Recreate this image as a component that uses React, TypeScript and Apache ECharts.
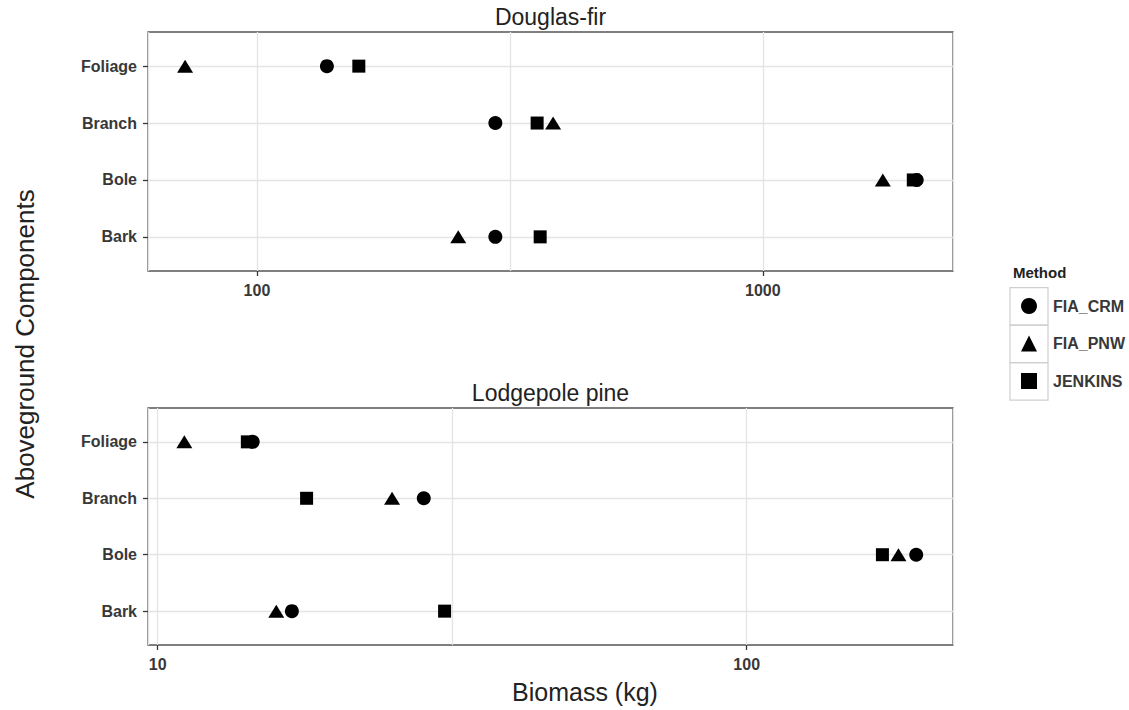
import React, { useEffect, useRef } from "react";
import * as echarts from "echarts";

// ---- data ----
const components = ["Foliage", "Branch", "Bole", "Bark"];
const methods = ["FIA_CRM", "FIA_PNW", "JENKINS"];

// Douglas-fir biomass (kg), order: Foliage, Branch, Bole, Bark
const dfCRM = [137.5, 296, 2015, 296];
const dfPNW = [72.1, 385, 1727, 250];
const dfJENKINS = [159, 358, 1984, 363];

// Lodgepole pine biomass (kg)
const lpCRM = [14.5, 28.3, 194, 16.9];
const lpPNW = [11.1, 25.0, 181, 15.9];
const lpJENKINS = [14.2, 17.9, 170, 30.7];

const dfRange = [60.9, 2377];
const lpRange = [9.63, 224];
const dfMajor = [100, 1000];
const lpMajor = [10, 100];

const FONT = "'Liberation Sans', Arial, sans-serif";
const GRID_COLOR = "#e4e4e4";
const TEXT_COLOR = "#383838";

const symbols: Record<string, { symbol: string; size: any }> = {
  FIA_CRM: { symbol: "circle", size: 14 },
  FIA_PNW: { symbol: "triangle", size: [16, 13] },
  JENKINS: { symbol: "rect", size: 13 },
};

function toPoints(values: number[]) {
  return values.map((v, i) => [v, i]);
}

function isPow10(v: number) {
  const l = Math.log10(v);
  return Math.abs(l - Math.round(l)) < 1e-6;
}

export default function App() {
  const ref = useRef<HTMLDivElement>(null);

  useEffect(() => {
    document.body.style.margin = "0";
    if (!ref.current) return;
    const chart = echarts.init(ref.current, null, { renderer: "svg" });

    const panels = [
      { vals: [dfCRM, dfPNW, dfJENKINS], range: dfRange, major: dfMajor },
      { vals: [lpCRM, lpPNW, lpJENKINS], range: lpRange, major: lpMajor },
    ];

    const grids = [
      { left: 148, top: 32, width: 805, height: 239 },
      { left: 148, top: 408, width: 805, height: 237 },
    ].map((g) => ({
      ...g,
      show: true,
      borderColor: "#555",
      borderWidth: 1.3,
      backgroundColor: "#fff",
      containLabel: false,
    }));

    const xAxes = panels.map((p, i) => ({
      type: "log",
      logBase: 10,
      gridIndex: i,
      position: "bottom",
      min: p.range[0],
      max: p.range[1],
      axisLine: { show: false, onZero: false },
      axisTick: {
        show: true,
        length: 5,
        lineStyle: { color: TEXT_COLOR, width: 1.3 },
      },
      axisLabel: {
        show: true,
        margin: 11,
        fontFamily: FONT,
        fontSize: 16,
        fontWeight: "bold",
        color: TEXT_COLOR,
        showMinLabel: false,
        showMaxLabel: false,
        formatter: (v: number) => (isPow10(v) ? String(Math.round(v)) : ""),
      },
      splitLine: { show: true, lineStyle: { color: GRID_COLOR, width: 1.3 } },
    }));

    const yAxes = panels.map((p, i) => ({
      type: "value",
      gridIndex: i,
      position: "left",
      inverse: true,
      min: -0.6,
      max: 3.6,
      axisLine: { show: false, onZero: false },
      axisTick: {
        show: true,
        length: 5,
        lineStyle: { color: TEXT_COLOR, width: 1.3 },
        customValues: [0, 1, 2, 3],
      },
      axisLabel: {
        margin: 11,
        fontFamily: FONT,
        fontSize: 16,
        fontWeight: "bold",
        color: TEXT_COLOR,
        customValues: [0, 1, 2, 3],
        formatter: (v: number) => {
          const r = Math.round(v);
          return Math.abs(v - r) < 1e-6 && r >= 0 && r < components.length ? components[r] : "";
        },
      },
      splitLine: { show: true, lineStyle: { color: GRID_COLOR, width: 1.3 } },
    }));

    const series: any[] = [];
    panels.forEach((p, pi) => {
      // minor break (ggplot log10 minor break, midway between majors)
      series.push({
        type: "scatter",
        name: "__minor" + pi,
        xAxisIndex: pi,
        yAxisIndex: pi,
        data: [],
        z: 1,
        silent: true,
        markLine: {
          silent: true,
          symbol: "none",
          label: { show: false },
          lineStyle: { color: GRID_COLOR, width: 1.3, type: "solid" },
          data: [{ xAxis: Math.pow(10, Math.log10(p.major[0]) + 0.5) }],
        },
      });
      methods.forEach((m, mi) => {
        series.push({
          type: "scatter",
          name: m,
          xAxisIndex: pi,
          yAxisIndex: pi,
          symbol: symbols[m].symbol,
          symbolSize: symbols[m].size,
          itemStyle: { color: "#000", opacity: 1 },
          z: 3,
          data: toPoints(p.vals[mi]),
        });
      });
    });

    const graphic: any[] = [
      {
        type: "text",
        x: 550.5,
        y: 17,
        style: { text: "Douglas-fir", font: `23px ${FONT}`, fill: "#222", textAlign: "center", textVerticalAlign: "middle" },
      },
      {
        type: "text",
        x: 550.5,
        y: 393,
        style: { text: "Lodgepole pine", font: `23px ${FONT}`, fill: "#222", textAlign: "center", textVerticalAlign: "middle" },
      },
      {
        type: "text",
        x: 585,
        y: 692,
        style: { text: "Biomass (kg)", font: `25px ${FONT}`, fill: "#222", textAlign: "center", textVerticalAlign: "middle" },
      },
      {
        type: "text",
        x: 24.5,
        y: 344,
        rotation: Math.PI / 2,
        style: { text: "Aboveground Components", font: `26px ${FONT}`, fill: "#222", textAlign: "center", textVerticalAlign: "middle" },
      },
      {
        type: "text",
        x: 1013,
        y: 272.5,
        style: { text: "Method", font: `bold 15px ${FONT}`, fill: "#222", textAlign: "left", textVerticalAlign: "middle" },
      },
      ...methods.map((m, i) => ({
        type: "rect",
        shape: { x: 1010, y: 287.7 + i * 37.5, width: 38, height: 37.5 },
        style: { fill: "none", stroke: "#cfcfcf", lineWidth: 1.2 },
        silent: true,
      })),
    ];

    chart.setOption({
      animation: false,
      backgroundColor: "#fff",
      grid: grids,
      xAxis: xAxes,
      yAxis: yAxes,
      series,
      legend: {
        data: methods,
        orient: "vertical",
        left: 1021,
        top: 298,
        padding: 0,
        itemWidth: 16,
        itemHeight: 16,
        itemGap: 21.5,
        selectedMode: false,
        itemStyle: { color: "#000" },
        textStyle: {
          fontFamily: FONT,
          fontSize: 16,
          fontWeight: "bold",
          color: TEXT_COLOR,
          padding: [0, 0, 0, 11],
        },
      },
      graphic,
    });

    return () => chart.dispose();
  }, []);

  return <div ref={ref} style={{ width: 1129, height: 710 }} />;
}
